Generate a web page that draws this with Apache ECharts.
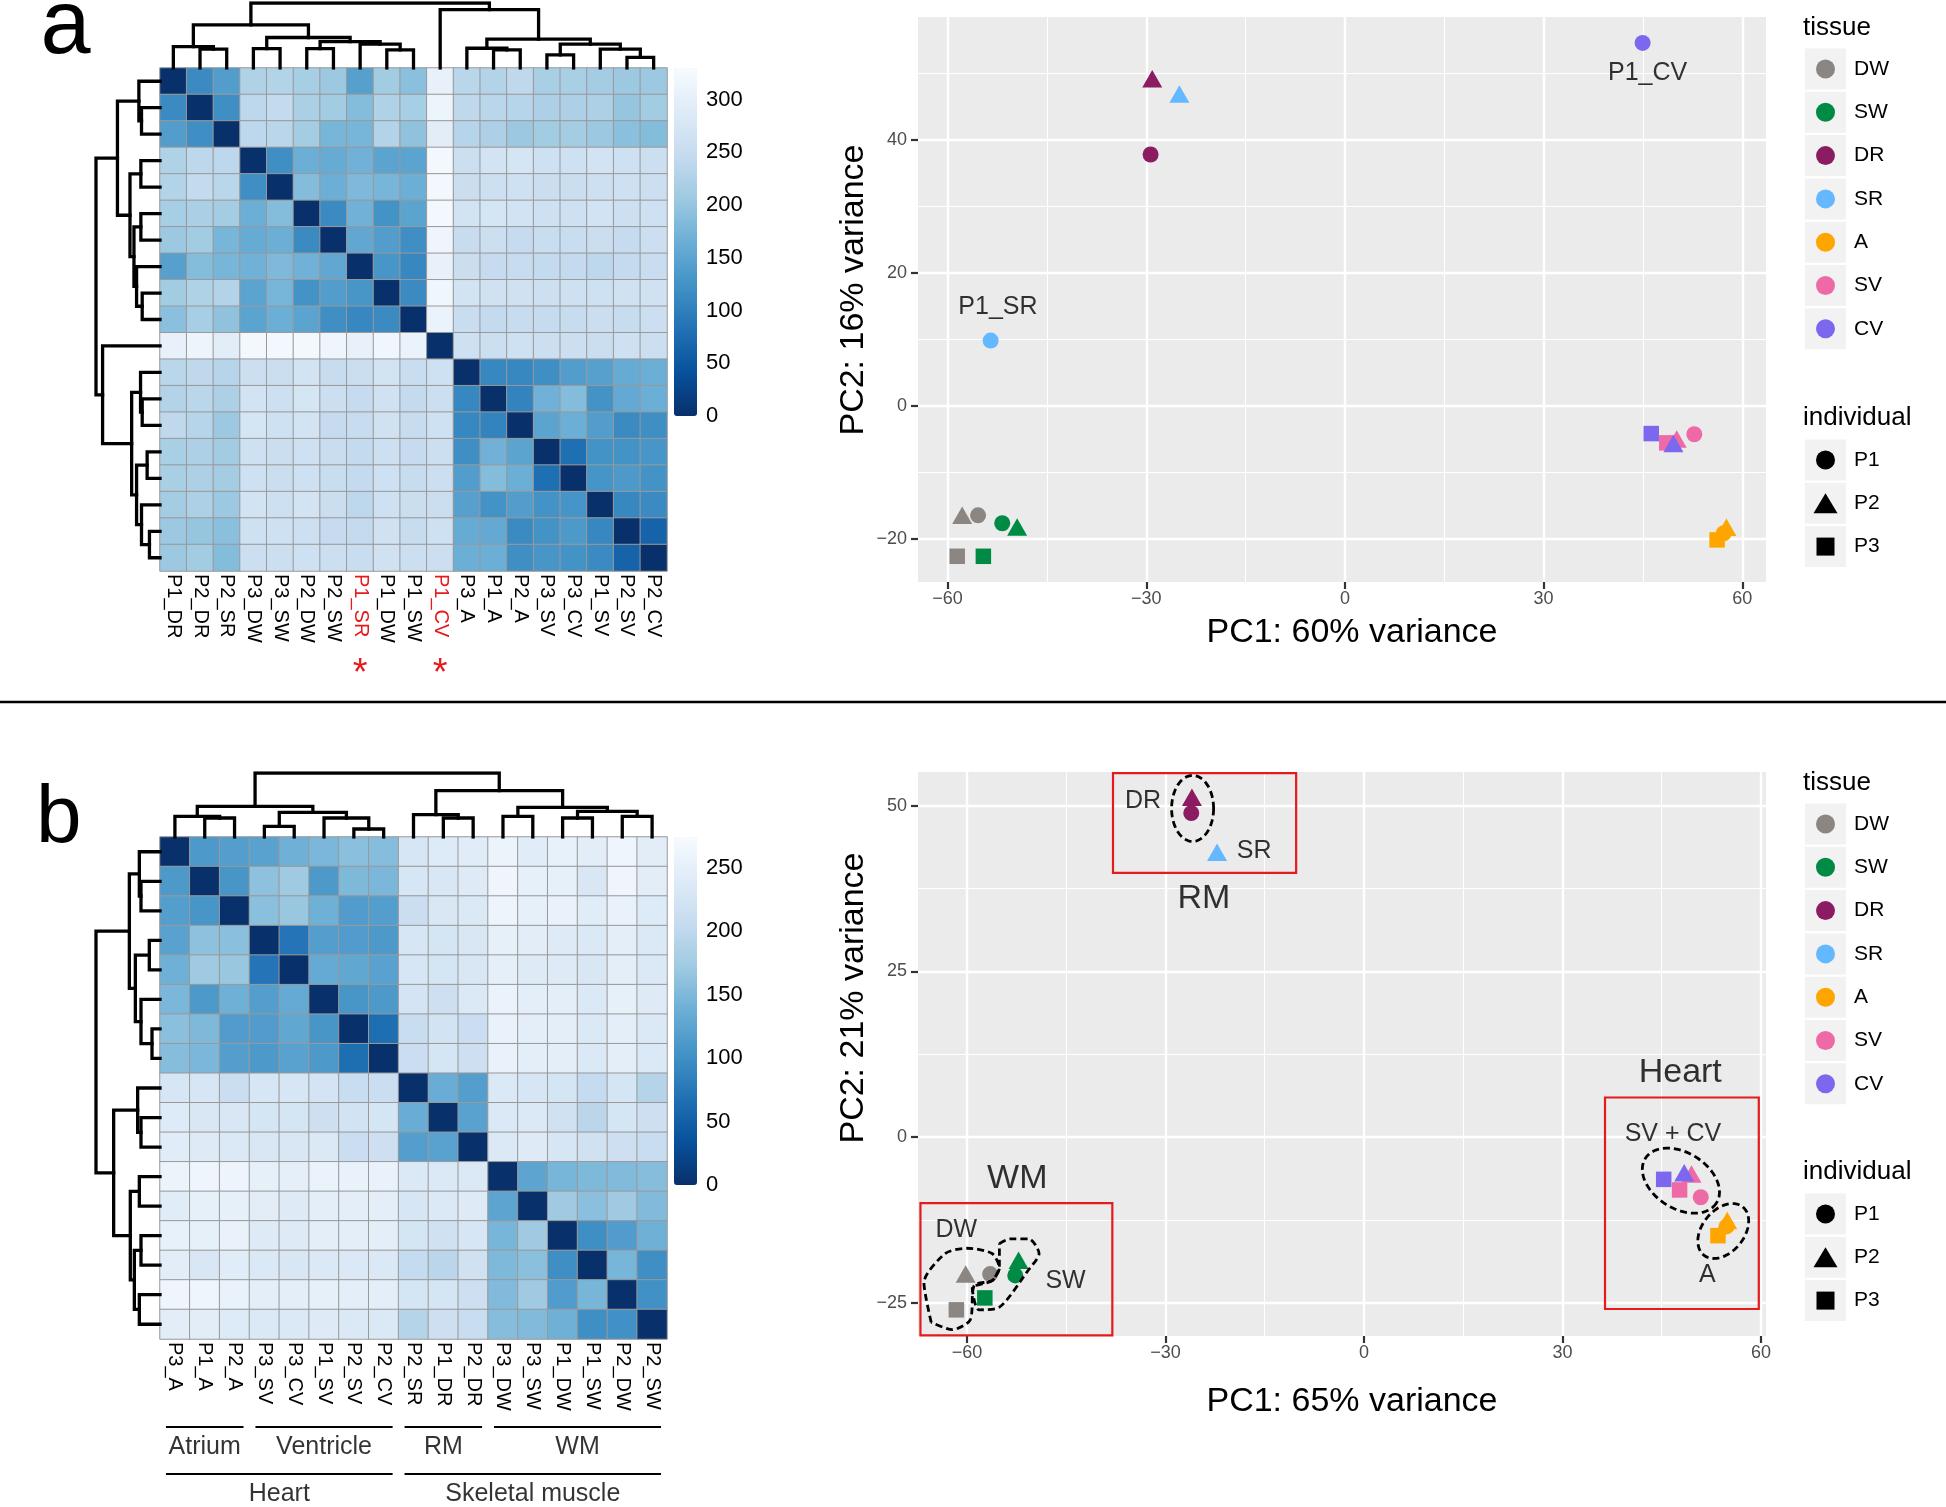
<!DOCTYPE html>
<html>
<head>
<meta charset="utf-8">
<script src="https://cdn.jsdelivr.net/npm/echarts@6/dist/echarts.min.js"></script>
<style>
html,body{margin:0;padding:0;background:#ffffff;}
#chart{width:1946px;height:1507px;}
</style>
</head>
<body>
<div id="chart"></div>
<script>
// ================= DATA =================
// ---- panel a : sample distance heatmap ----
const heatA_labels = ['P1_DR','P2_DR','P2_SR','P3_DW','P3_SW','P2_DW','P2_SW','P1_SR','P1_DW','P1_SW','P1_CV','P3_A','P1_A','P2_A','P3_SV','P3_CV','P1_SV','P2_SV','P2_CV'];
const heatA_flagged = ['P1_SR','P1_CV'];
const heatA_values = [
  [0,115,140,225,228,215,205,145,210,190,305,235,228,240,218,218,212,205,205],
  [115,0,120,238,245,220,210,185,225,215,312,240,235,232,222,222,222,200,210],
  [140,120,0,238,235,212,175,175,228,195,295,232,222,205,210,212,205,190,185],
  [225,238,238,0,120,165,160,170,150,150,322,258,268,272,262,262,268,262,258],
  [228,245,235,120,0,185,165,180,175,165,322,255,260,262,255,255,260,262,258],
  [215,220,212,165,185,0,115,170,125,150,322,268,272,268,262,262,268,260,262],
  [205,210,175,160,165,115,0,155,140,120,315,250,258,248,252,252,255,248,258],
  [145,185,175,170,180,170,155,0,130,110,305,255,248,250,245,245,238,245,252],
  [210,225,228,150,175,125,140,130,0,115,318,268,265,265,260,262,262,265,265],
  [190,215,195,150,165,150,120,110,115,0,308,252,245,250,248,250,255,250,258],
  [305,312,295,322,322,322,315,305,318,308,0,262,258,262,258,258,255,262,258],
  [235,240,232,258,255,268,250,255,268,252,262,0,110,110,120,140,145,160,165],
  [228,235,222,268,260,272,258,248,265,245,258,110,0,105,170,185,125,158,165],
  [240,232,205,272,262,268,248,250,265,250,262,110,105,0,150,165,140,115,120],
  [218,222,210,262,255,262,252,245,260,248,258,120,170,150,0,80,125,125,130],
  [218,222,212,262,255,262,252,245,262,250,258,140,185,165,80,0,128,135,125],
  [212,222,205,268,260,268,255,238,262,255,255,145,125,140,125,128,0,110,115],
  [205,200,190,262,262,260,248,245,265,250,262,160,158,115,125,135,110,0,65],
  [205,210,185,258,258,262,258,252,265,258,258,165,165,120,130,125,115,65,0]
];
const heatA_max = 330;
const heatA_ticks = [0,50,100,150,200,250,300];
// dendrogram: [left, right, mergeHeight], leaves are column indices
const heatA_tree = [
  [[0,[1,2,28.9],33.0],[[3,4,29.9],[[5,6,29.9],[7,[8,9,27.8],36.6],40.7],46.9],66.5],
  [10,[[11,[12,13,27.8],30.4],[[14,15,20.1],[16,[17,18,16.5],28.9],36.6],44.3],89.7],
  100
];

// ---- panel b : sample distance heatmap ----
const heatB_labels = ['P3_A','P1_A','P2_A','P3_SV','P3_CV','P1_SV','P2_SV','P2_CV','P2_SR','P1_DR','P2_DR','P3_DW','P3_SW','P1_DW','P1_SW','P2_DW','P2_SW'];
const heatB_values = [
  [0,112,118,122,140,148,158,155,228,238,242,258,242,252,245,262,245],
  [112,0,108,160,172,112,150,148,228,232,240,262,250,250,232,262,245],
  [118,108,0,158,168,140,115,118,212,232,236,260,250,255,242,255,238],
  [122,160,158,0,72,118,115,112,228,226,232,250,245,240,236,246,236],
  [140,172,168,72,0,132,128,122,228,226,232,248,240,240,232,246,236],
  [148,112,140,118,132,0,108,112,225,215,236,256,246,246,236,250,240],
  [158,150,115,115,128,108,0,65,210,222,212,255,246,246,236,246,236],
  [155,148,118,112,122,112,65,0,212,226,215,255,246,246,236,246,236],
  [228,228,212,228,228,225,210,212,0,135,118,236,230,226,205,226,192],
  [238,232,232,226,226,215,222,226,135,0,122,236,236,220,196,226,215],
  [242,240,236,232,232,236,212,215,118,122,0,236,240,230,220,215,210],
  [258,262,260,250,248,256,255,255,236,236,236,0,125,145,150,152,155],
  [242,250,250,245,240,246,246,246,230,236,240,125,0,172,158,172,152],
  [252,250,255,240,240,246,246,246,226,220,230,145,172,0,100,115,140],
  [245,232,242,236,232,236,236,236,205,196,220,150,158,100,0,145,100],
  [262,262,255,246,246,250,246,246,226,226,215,152,172,115,145,0,102],
  [245,245,238,236,236,240,236,236,192,215,210,155,152,140,100,102,0]
];
const heatB_max = 274;
const heatB_ticks = [0,50,100,150,200,250];
const heatB_tree = [
  [[0,[1,2,29.7],32.3],[[3,4,16.7],[5,[6,7,12.5],29.7],38.5],47.9],
  [[8,[9,10,29.7],34.9],[[11,12,32.3],[[13,14,29.7],[15,16,32.3],40.1],46.4],72.4],
  100
];
const heatB_groupsTissue = [['Atrium',0,3],['Ventricle',3,8],['RM',8,11],['WM',11,17]];
const heatB_groupsOrgan = [['Heart',0,8],['Skeletal muscle',8,17]];

// ---- PCA legends ----
const tissues = ['DW','SW','DR','SR','A','SV','CV'];
const tissueColors = ['#8B8682','#008B45','#8B1C62','#63B8FF','#FFA500','#EE6AA7','#7B68EE'];
const individuals = ['P1','P2','P3'];

// ---- PCA panel a ----
const pcaA_samples = ['P1_DW','P2_DW','P3_DW','P1_SW','P2_SW','P3_SW','P1_DR','P2_DR','P1_SR','P2_SR','P1_A','P2_A','P3_A','P1_SV','P2_SV','P3_SV','P1_CV','P2_CV','P3_CV'];
const pcaA_pc1 = [-55.4,-57.8,-58.55,-51.75,-49.5,-54.6,-29.35,-29.1,-53.5,-25.0,57.2,57.6,56.2,52.75,50.1,48.6,44.95,49.6,46.25];
const pcaA_pc2 = [-16.5,-16.5,-22.67,-17.7,-18.25,-22.67,37.8,49.2,9.8,46.9,-19.2,-18.3,-20.2,-4.3,-5.0,-5.6,54.6,-5.7,-4.2];
const pcaA_xTicks = [-60,-30,0,30,60];
const pcaA_xMinor = [-45,-15,15,45];
const pcaA_yTicks = [-20,0,20,40];
const pcaA_yMinor = [-10,10,30,50];
const pcaA_notes = [['P1_CV',45.7,50.0],['P1_SR',-52.4,14.8]];

// ---- PCA panel b ----
const pcaB_samples = ['P1_DW','P2_DW','P3_DW','P1_SW','P2_SW','P3_SW','P1_DR','P2_DR','P2_SR','P1_A','P2_A','P3_A','P1_SV','P2_SV','P3_SV','P2_CV','P3_CV'];
const pcaB_pc1 = [-56.5,-60.2,-61.6,-52.7,-52.2,-57.3,-26.1,-26.0,-22.2,54.8,54.9,53.5,50.9,49.5,47.7,48.4,45.3];
const pcaB_pc2 = [-20.7,-20.7,-26.1,-20.9,-18.6,-24.3,48.9,51.3,43.0,-13.5,-12.6,-14.9,-9.1,-5.6,-8.0,-5.4,-6.4];
const pcaB_xTicks = [-60,-30,0,30,60];
const pcaB_xMinor = [-45,-15,15,45];
const pcaB_yTicks = [-25,0,25,50];
const pcaB_yMinor = [-12.5,12.5,37.5];
const pcaB_notesSmall = [['DR',-33.4,50.7],['SR',-16.6,43.1],['DW',-61.6,-14.1],['SW',-45.1,-21.7],['SV + CV',46.7,0.5],['A',51.9,-20.9]];
const pcaB_notesLarge = [['RM',-24.2,36.0],['WM',-52.4,-6.3],['Heart',47.8,9.7]];
const pcaB_boxes = [[-37.93,54.94,-10.25,39.87],[-67.03,-10.0,-38.03,-29.96],[36.43,5.96,59.67,-25.97]];
const pcaB_ellipses = [[-25.9,49.6,21,33,0],[47.9,-6.6,42,28,32],[54.3,-14.2,31,21,-51]];
const pcaB_outlineDW = [[-65.4,-28.0],[-66.5,-22.0],[-63.3,-17.6],[-60.0,-16.8],[-56.2,-17.6],[-55.1,-19.8],[-56.2,-21.7],[-58.9,-22.4],[-59.5,-27.6],[-62.2,-29.1],[-65.4,-28.0]];
const pcaB_outlineSW = [[-55.1,-16.1],[-53.5,-15.4],[-50.6,-15.4],[-49.1,-17.6],[-50.8,-20.2],[-55.1,-25.7],[-58.2,-26.1],[-59.2,-22.8],[-56.2,-21.7],[-55.1,-19.5],[-55.1,-16.1]];

// ================= BUILD =================
const RED = '#E41A1C';
const BLUES = ['#08306B','#08519C','#2171B5','#4292C6','#6BAED6','#9ECAE1','#C6DBEF','#DEEBF7','#F7FBFF'];
const FONT = '"Liberation Sans", Arial, Helvetica, sans-serif';

const option = {
  animation: false,
  backgroundColor: '#ffffff',
  textStyle: {fontFamily: FONT},
  grid: [], xAxis: [], yAxis: [], series: [], visualMap: [], graphic: []
};
function addGrid(g) { option.grid.push(Object.assign({outerBoundsMode: 'none'}, g)); return option.grid.length - 1; }
function addX(a) { option.xAxis.push(a); return option.xAxis.length - 1; }
function addY(a) { option.yAxis.push(a); return option.yAxis.length - 1; }
function addSeries(s) { option.series.push(s); return option.series.length - 1; }

function dendroSegments(tree) {
  const segs = [];
  (function walk(node) {
    if (typeof node === 'number') return {p: node + 0.5, h: 0};
    const L = walk(node[0]), R = walk(node[1]), H = node[2];
    segs.push([[L.p, L.h], [L.p, H], [R.p, H], [R.p, R.h]]);
    return {p: (L.p + R.p) / 2, h: H};
  })(tree);
  return segs;
}

function addDendro(tree, n, box, side) {
  const g = addGrid(box);
  const segs = dendroSegments(tree);
  let xi, yi, data;
  if (side === 'top') {
    xi = addX({type: 'value', gridIndex: g, min: 0, max: n, show: false});
    yi = addY({type: 'value', gridIndex: g, min: 0, max: 100, show: false});
    data = segs.map(s => ({coords: s}));
  } else {
    xi = addX({type: 'value', gridIndex: g, min: 0, max: 100, inverse: true, show: false});
    yi = addY({type: 'value', gridIndex: g, min: 0, max: n, inverse: true, show: false});
    data = segs.map(s => ({coords: s.map(c => [c[1], c[0]])}));
  }
  addSeries({type: 'lines', coordinateSystem: 'cartesian2d', xAxisIndex: xi, yAxisIndex: yi,
    polyline: true, silent: true, z: 3,
    lineStyle: {color: '#000000', width: 3.3, opacity: 1, cap: 'square', join: 'miter'},
    data: data});
}

function addHeatmap(labels, values, flagged, box, vmax, ticks, cb) {
  const g = addGrid(box);
  const xi = addX({type: 'category', gridIndex: g, data: labels, position: 'bottom',
    axisLine: {show: false, onZero: false}, axisTick: {show: false}, splitLine: {show: false},
    axisLabel: {interval: 0, rotate: -90, margin: 3, fontSize: 20,
      color: v => (flagged.indexOf(v) >= 0 ? RED : '#000000')}});
  if (flagged.length) {
    addX({type: 'category', gridIndex: g, data: labels, position: 'bottom', offset: 82,
      axisLine: {show: false, onZero: false}, axisTick: {show: false}, splitLine: {show: false},
      axisLabel: {interval: 0, margin: 3, fontSize: 38, color: RED,
        formatter: v => (flagged.indexOf(v) >= 0 ? '*' : '')}});
  }
  const yi = addY({type: 'category', gridIndex: g, data: labels, inverse: true, show: false});
  const data = [];
  values.forEach((row, i) => row.forEach((v, j) => data.push([j, i, v])));
  const si = addSeries({type: 'heatmap', xAxisIndex: xi, yAxisIndex: yi, data: data, silent: true,
    itemStyle: {borderColor: '#999999', borderWidth: 1}, emphasis: {disabled: true}});
  option.visualMap.push({type: 'continuous', seriesIndex: si, min: 0, max: vmax,
    inRange: {color: BLUES}, calculable: false, show: true, orient: 'vertical',
    left: cb.left, top: cb.top, itemWidth: cb.width, itemHeight: cb.height, padding: 0,
    hoverLink: false});
  // colorbar tick labels
  const cg = addGrid({left: cb.left, top: cb.top, width: cb.width, height: cb.height});
  addX({type: 'value', gridIndex: cg, min: 0, max: 1, show: false});
  addY({type: 'value', gridIndex: cg, min: 0, max: vmax, position: 'right',
    axisLine: {show: false, onZero: false}, axisTick: {show: false}, splitLine: {show: false},
    axisLabel: {customValues: ticks, fontSize: 22, color: '#000000', margin: 9}});
}

const minusFmt = v => String(v).replace('-', '\u2212');

function addPCA(cfg) {
  const g = addGrid({left: cfg.left, top: cfg.top, width: cfg.width, height: cfg.height,
    show: true, backgroundColor: '#EBEBEB', borderWidth: 0});
  const xi = addX({type: 'value', gridIndex: g, position: 'bottom', min: cfg.xr[0], max: cfg.xr[1],
    axisLine: {show: false, onZero: false},
    axisTick: {show: true, customValues: cfg.xt, length: 7, lineStyle: {color: '#333333', width: 2.2}},
    axisLabel: {customValues: cfg.xt, formatter: minusFmt, fontSize: 18, color: '#4D4D4D', margin: 8},
    splitLine: {show: true, lineStyle: {color: '#FFFFFF', width: 2.4}}});
  addX({type: 'value', gridIndex: g, position: 'bottom', min: cfg.xr[0], max: cfg.xr[1],
    axisLine: {show: false, onZero: false}, axisTick: {show: false, customValues: cfg.xm}, axisLabel: {show: false},
    splitLine: {show: true, lineStyle: {color: '#FFFFFF', width: 1.1}}});
  const yi = addY({type: 'value', gridIndex: g, position: 'left', min: cfg.yr[0], max: cfg.yr[1],
    axisLine: {show: false, onZero: false},
    axisTick: {show: true, customValues: cfg.yt, length: 7, lineStyle: {color: '#333333', width: 2.2}},
    axisLabel: {customValues: cfg.yt, formatter: minusFmt, fontSize: 18, color: '#4D4D4D', margin: 11},
    splitLine: {show: true, lineStyle: {color: '#FFFFFF', width: 2.4}}});
  addY({type: 'value', gridIndex: g, position: 'left', min: cfg.yr[0], max: cfg.yr[1],
    axisLine: {show: false, onZero: false}, axisTick: {show: false, customValues: cfg.ym}, axisLabel: {show: false},
    splitLine: {show: true, lineStyle: {color: '#FFFFFF', width: 1.1}}});
  const SHAPE = {P1: 'circle', P2: 'triangle', P3: 'rect'};
  const SIZE = {P1: 16, P2: [20, 17.5], P3: 15.5};
  tissues.forEach((t, ti) => {
    const items = [];
    cfg.samples.forEach((s, k) => {
      const parts = s.split('_');
      if (parts[1] !== t) return;
      items.push({name: s, value: [cfg.pc1[k], cfg.pc2[k]], symbol: SHAPE[parts[0]], symbolSize: SIZE[parts[0]]});
    });
    if (items.length) addSeries({type: 'scatter', name: t, xAxisIndex: xi, yAxisIndex: yi, data: items,
      silent: true, z: 4, itemStyle: {color: tissueColors[ti], opacity: 1}});
  });
  return {xi, yi};
}

function addTextNotes(ax, notes, size) {
  addSeries({type: 'scatter', xAxisIndex: ax.xi, yAxisIndex: ax.yi, silent: true, z: 6,
    symbolSize: 1, itemStyle: {color: 'rgba(0,0,0,0)'},
    label: {show: true, position: 'inside', formatter: '{b}', fontSize: size, color: '#000000'},
    data: notes.map(n => ({name: n[0], value: [n[1], n[2]]}))});
}

function addLegendGrid(firstRowCenter, names, keyBuilder) {
  const rowH = 43.3;
  const g = addGrid({left: 1805, top: firstRowCenter - rowH / 2, width: 41, height: rowH * names.length});
  const xi = addX({type: 'category', gridIndex: g, data: ['k'], show: false});
  const yi = addY({type: 'category', gridIndex: g, data: names, inverse: true, position: 'right',
    axisLine: {show: false, onZero: false}, axisTick: {show: false}, splitLine: {show: false},
    axisLabel: {interval: 0, margin: 8, fontSize: 21, color: '#000000'}});
  addSeries({type: 'scatter', xAxisIndex: xi, yAxisIndex: yi, silent: true, z: 1,
    symbol: 'rect', symbolSize: [41, 41], itemStyle: {color: '#F2F2F2', opacity: 1},
    data: names.map((n, i) => [0, i])});
  addSeries({type: 'scatter', xAxisIndex: xi, yAxisIndex: yi, silent: true, z: 2,
    data: names.map((n, i) => Object.assign({value: [0, i]}, keyBuilder(n, i)))});
}

function addGraphicText(text, x, y, size, opts) {
  option.graphic.push(Object.assign({type: 'text', x: x, y: y, silent: true,
    style: Object.assign({text: text, fontSize: size, fill: '#000000', fontFamily: FONT,
      align: 'center', verticalAlign: 'middle'}, (opts && opts.style) || {})},
    (opts && opts.el) || {}));
}

// ---------- Panel a ----------
addHeatmap(heatA_labels, heatA_values, heatA_flagged,
  {left: 160, top: 68, width: 507, height: 503}, heatA_max, heatA_ticks,
  {left: 674, top: 68, width: 23, height: 348});
addDendro(heatA_tree, heatA_labels.length, {left: 160, top: 3, width: 507, height: 65}, 'top');
addDendro(heatA_tree, heatA_labels.length, {left: 96, top: 68, width: 64, height: 503}, 'left');

const axA = addPCA({left: 918, top: 17, width: 848, height: 565,
  xr: [-64.47, 63.58], yr: [-26.54, 58.5],
  xt: pcaA_xTicks, xm: pcaA_xMinor, yt: pcaA_yTicks, ym: pcaA_yMinor,
  samples: pcaA_samples, pc1: pcaA_pc1, pc2: pcaA_pc2});
addTextNotes(axA, pcaA_notes, 25);

// ---------- Panel b ----------
addHeatmap(heatB_labels, heatB_values, [],
  {left: 160, top: 837, width: 507, height: 502}, heatB_max, heatB_ticks,
  {left: 674, top: 837, width: 23, height: 348});
addDendro(heatB_tree, heatB_labels.length, {left: 160, top: 773, width: 507, height: 64}, 'top');
addDendro(heatB_tree, heatB_labels.length, {left: 96, top: 837, width: 64, height: 502}, 'left');

// group brackets under heatmap b
(function () {
  const g = addGrid({left: 160, top: 1427, width: 507, height: 47});
  const xi = addX({type: 'value', gridIndex: g, min: 0, max: heatB_labels.length, show: false});
  const yi = addY({type: 'value', gridIndex: g, min: 0, max: 1, inverse: true, show: false});
  const lineData = [], textData = [];
  [heatB_groupsTissue, heatB_groupsOrgan].forEach((groups, level) => {
    groups.forEach(gr => {
      lineData.push({coords: [[gr[1] + 0.2, level], [gr[2] - 0.2, level]]});
      textData.push({name: gr[0], value: [(gr[1] + gr[2]) / 2, level]});
    });
  });
  addSeries({type: 'lines', coordinateSystem: 'cartesian2d', xAxisIndex: xi, yAxisIndex: yi, silent: true,
    lineStyle: {color: '#000000', width: 2, opacity: 1}, data: lineData});
  addSeries({type: 'scatter', xAxisIndex: xi, yAxisIndex: yi, silent: true, symbolSize: 1,
    itemStyle: {color: 'rgba(0,0,0,0)'},
    label: {show: true, position: 'bottom', distance: 7, formatter: '{b}', fontSize: 25, color: '#000000'},
    data: textData});
})();

const axB = addPCA({left: 918, top: 772, width: 848, height: 564,
  xr: [-67.4, 60.76], yr: [-30.05, 55.1],
  xt: pcaB_xTicks, xm: pcaB_xMinor, yt: pcaB_yTicks, ym: pcaB_yMinor,
  samples: pcaB_samples, pc1: pcaB_pc1, pc2: pcaB_pc2});

// red boxes
addSeries({type: 'scatter', xAxisIndex: axB.xi, yAxisIndex: axB.yi, silent: true, data: [],
  markArea: {silent: true, label: {show: false},
    itemStyle: {color: 'rgba(0,0,0,0)', borderColor: RED, borderWidth: 2.2},
    data: pcaB_boxes.map(b => [{coord: [b[0], b[1]]}, {coord: [b[2], b[3]]}])}});
// dashed ellipses
addSeries({type: 'custom', coordinateSystem: 'cartesian2d', xAxisIndex: axB.xi, yAxisIndex: axB.yi,
  silent: true, z: 7, clip: false, data: pcaB_ellipses,
  renderItem: function (params, api) {
    const c = api.coord([api.value(0), api.value(1)]);
    const rx = api.value(2), ry = api.value(3), rot = api.value(4) * Math.PI / 180;
    const pts = [];
    for (let k = 0; k <= 80; k++) {
      const t = 2 * Math.PI * k / 80;
      const px = rx * Math.cos(t), py = ry * Math.sin(t);
      pts.push([c[0] + px * Math.cos(rot) - py * Math.sin(rot), c[1] + px * Math.sin(rot) + py * Math.cos(rot)]);
    }
    return {type: 'polyline', shape: {points: pts},
      style: {fill: null, stroke: '#000000', lineWidth: 2.8, lineDash: [7, 4]}};
  }});
// dashed outlines around WM points
[pcaB_outlineDW, pcaB_outlineSW].forEach(o => addSeries({type: 'line', xAxisIndex: axB.xi, yAxisIndex: axB.yi,
  silent: true, z: 7, symbol: 'none', smooth: 0.25, data: o,
  lineStyle: {color: '#000000', width: 2.8, type: [7, 4]}}));
addTextNotes(axB, pcaB_notesSmall, 25);
addTextNotes(axB, pcaB_notesLarge, 34);

// ---------- legends ----------
const SHAPE_L = {P1: 'circle', P2: 'triangle', P3: 'rect'};
const SIZE_L = {P1: 19, P2: [24, 20], P3: 18};
[[69, 460], [824, 1214]].forEach(pos => {
  addLegendGrid(pos[0], tissues, (n, i) => ({symbol: 'circle', symbolSize: 19, itemStyle: {color: tissueColors[i], opacity: 1}}));
  addLegendGrid(pos[1], individuals, (n) => ({symbol: SHAPE_L[n], symbolSize: SIZE_L[n], itemStyle: {color: '#000000', opacity: 1}}));
});
addGraphicText('tissue', 1803, 28, 26, {style: {align: 'left'}});
addGraphicText('individual', 1803, 418, 26, {style: {align: 'left'}});
addGraphicText('tissue', 1803, 783, 26, {style: {align: 'left'}});
addGraphicText('individual', 1803, 1171.5, 26, {style: {align: 'left'}});

// ---------- axis titles ----------
addGraphicText('PC1: 60% variance', 1352, 633, 34);
addGraphicText('PC1: 65% variance', 1352, 1402, 34);
addGraphicText('PC2: 16% variance', 854, 290, 34, {el: {rotation: Math.PI / 2}});
addGraphicText('PC2: 21% variance', 854, 998, 34, {el: {rotation: Math.PI / 2}});

// ---------- panel letters & separator ----------
addGraphicText('a', 40.5, 27.8, 90, {style: {align: 'left'}});
addGraphicText('b', 36, 819.6, 82, {style: {align: 'left'}});
option.graphic.push({type: 'line', silent: true, shape: {x1: 0, y1: 702, x2: 1946, y2: 702},
  style: {stroke: '#000000', lineWidth: 2.5}});

const chart = echarts.init(document.getElementById('chart'), null, {renderer: 'canvas', width: 1946, height: 1507});
chart.setOption(option);
</script>
</body>
</html>
